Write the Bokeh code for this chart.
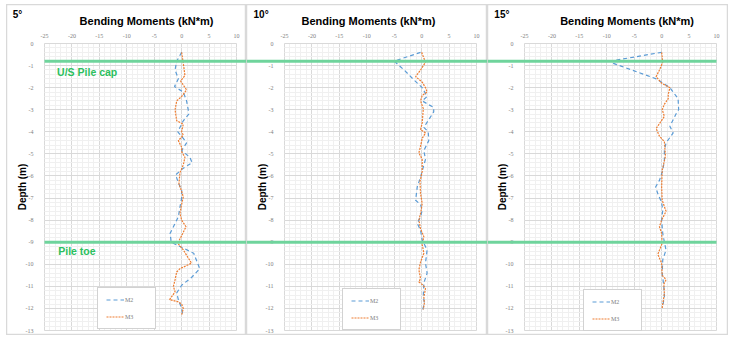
from bokeh.plotting import figure
from bokeh.layouts import row, column, Spacer
from bokeh.models import Range1d, SingleIntervalTicker, BoxAnnotation, Label, Legend
from bokeh.embed import file_html
from bokeh.resources import INLINE

# ---------------- data ----------------
angles = ["5°", "10°", "15°"]
x_ticks = [-25, -20, -15, -10, -5, 0, 5, 10]
y_ticks = [0, -1, -2, -3, -4, -5, -6, -7, -8, -9, -10, -11, -12, -13]
pile_cap_depth = -0.8
pile_toe_depth = -9.0

depth_m2_5 = [-0.4, -0.8, -1.2, -1.6, -1.95, -2.2, -2.6, -3.0, -3.2, -3.5, -4.0, -4.3, -4.5, -4.85, -5.15, -5.4,
              -5.65, -5.95, -6.3, -6.65, -7.0, -7.4, -7.85, -8.3, -8.6, -9.0, -9.5, -10.2, -10.6, -10.95, -11.3,
              -11.6, -12.0, -12.3]
m2_5 = [0, -0.9, -1.2, -0.6, -1.3, 0.3, 0.9, 1.2, 1.3, 0.3, -0.7, 0.3, 0.9, 0, 1.5, 1.9,
        0.3, -1.1, -0.6, 0, 0, -0.3, -0.6, -1.5, -2.1, -1.9, 2.2, 3.3, 1.8, 0, -0.9,
        -0.6, 0, 0.2]
depth_m3_5 = [-0.4, -0.9, -1.45, -1.7, -2.1, -2.4, -2.6, -3.0, -3.5, -3.65, -4.0, -4.15, -4.4, -4.7, -4.9, -5.15,
              -5.5, -5.85, -6.35, -6.7, -6.95, -7.4, -7.7, -8.0, -8.3, -8.7, -9.05, -9.35, -9.95, -10.2, -10.35,
              -10.7, -11.0, -11.25, -11.6, -11.7, -11.8, -12.0, -12.3]
m3_5 = [0, 0.3, 0.6, -0.2, 0.9, 0, -0.9, -1.2, -0.9, 0.3, 0, 0.3, -0.6, 0, 0, 0.6,
        0.3, -0.3, -0.5, 0, 0.3, -0.1, -0.3, 0.0, 0.8, 0, -0.7, 0.3, 1.8, -0.3, -0.9,
        -1.2, -1.5, -1.2, -2.2, -0.6, 0, 0.3, 0]

depth_m2_10 = [-0.4, -0.8, -1.2, -1.65, -2.0, -2.4, -2.6, -2.9, -3.1, -3.8, -4.0, -4.4, -4.85, -5.25, -5.6, -6.05,
               -6.5, -7.1, -7.3, -7.55, -7.85, -8.15, -8.45, -8.9, -9.35, -9.95, -10.4, -10.85, -11.45, -11.75,
               -12.15]
m2_10 = [-0.2, -5.0, -3.2, -1.4, 0.1, 1.0, 0.1, 2.2, 2.2, 0.4, 1.2, 1.3, 0.4, 0.7, 0.3, -0.2,
         -0.8, -1.1, -0.2, 0.1, -0.2, -0.8, -0.2, 0.1, 1.0, 0.7, 1.0, 0.4, 0.3, 0.5,
         0.1]
depth_m3_10 = [-0.4, -0.85, -1.2, -1.5, -1.75, -2.0, -2.2, -2.35, -2.6, -2.95, -3.6, -3.9, -4.05, -4.3, -4.65,
               -4.95, -5.25, -5.8, -6.25, -6.8, -7.25, -7.7, -8.0, -8.4, -8.75, -9.1, -9.5, -9.9, -10.25, -10.65,
               -10.8, -10.95, -11.1, -11.5, -11.75, -12.05]
m3_10 = [0, 0.7, -0.2, -1.1, 0.1, 0.7, 1.0, 0.1, -0.2, 0.3, 0.1, -0.2, 0.7, 0.1, -0.2,
         -0.5, 0.1, 0.1, -0.3, -0.2, 0.1, -0.2, -0.5, -0.2, 0.4, 0.1, 0.4, -0.2, -0.5, -0.2,
         -0.5, 0.3, 0.7, 0.4, 0.5, 0.3]

depth_m2_15 = [-0.4, -0.8, -0.9, -1.6, -2.0, -2.5, -3.0, -3.15, -3.75, -4.05, -4.5, -4.85, -5.3, -5.75, -6.2,
               -6.5, -6.8, -7.2, -7.55, -8.0, -8.6, -9.0, -9.35, -9.8, -10.4, -11.0, -11.45, -11.9]
m2_15 = [0, -9.4, -8.8, -1.0, 1.5, 3.0, 3.1, 2.7, 1.5, 2.1, 0.8, 0.5, 0.5, 0.2, -0.4,
         -1.1, -0.7, 0, 0.2, 0, 0.2, 0.5, 0.8, 0.2, 0.1, 0.4, 0.5, 0.2]
depth_m3_15 = [-0.4, -0.85, -1.2, -1.5, -1.8, -2.0, -2.3, -2.5, -2.75, -3.0, -3.3, -3.85, -4.2, -4.45, -5.1,
               -5.75, -6.5, -7.1, -7.6, -8.0, -8.3, -8.6, -9.05, -9.55, -9.95, -10.5, -10.7, -10.9, -11.35,
               -11.8, -12.0]
m3_15 = [0, 0.2, -0.4, -1.0, 0, 1.5, 1.2, 1.2, 0.5, 0.1, 0.5, -1.0, -0.4, 0.5, 0.7,
         0.1, 0, 0.1, 0.8, 0, -0.4, 0, 0.1, -0.7, 0, 0.1, 0.8, 0.4, 0.5,
         0.2, 0.1]

panels = [
    (depth_m2_5, m2_5, depth_m3_5, m3_5),
    (depth_m2_10, m2_10, depth_m3_10, m3_10),
    (depth_m2_15, m2_15, depth_m3_15, m3_15),
]

# ---------------- layout (picture pixels) ----------------
LEFT_PAD, TOP_PAD = 6, 4
canvas_edges = [(6, 246), (246, 487), (487, 728)]   # left/right px of each panel
plot_left = [44, 284, 524]                          # px of x = -25
PX_PER_X = 192 / 35.0
PLOT_TOP = 43                                        # px of depth 0
PX_PER_Y = 287 / 13.0
H = 331
title_x = [-6.4, -9.7, -6.3]
angle_x = [-30.8, -30.65, -30.5]
legend_loc = [(91, 6), (96, 5), (96, 4)]

# ---------------- style ----------------
BLUE = "#5b9bd5"
ORANGE = "#ed7d31"
GREEN_LINE = "#6fd49c"
GREEN_TEXT = "#2cbf5e"
TICK_COL = "#808080"
SANS = "Liberation Sans"
SERIF = "Liberation Serif"

y_top = (PLOT_TOP - TOP_PAD) / PX_PER_Y
y_bot = -13 - (TOP_PAD + H - (PLOT_TOP + 287)) / PX_PER_Y

figs = []
for i, (dm2, vm2, dm3, vm3) in enumerate(panels):
    c0, c1 = canvas_edges[i]
    x0 = -25 - (plot_left[i] - c0) / PX_PER_X
    x1 = -25 + (c1 - plot_left[i]) / PX_PER_X
    p = figure(width=c1 - c0, height=H, output_backend="svg", toolbar_location=None,
               x_range=Range1d(x0, x1), y_range=Range1d(y_bot, y_top),
               x_axis_location="above",
               min_border_left=0, min_border_right=0, min_border_top=0, min_border_bottom=0)
    p.background_fill_color = "white"
    p.border_fill_color = "white"
    p.outline_line_color = "#d9d9d9"
    p.outline_line_width = 1.5

    p.xaxis.fixed_location = 0
    p.yaxis.fixed_location = -25
    p.xaxis.bounds = (-25, 10)
    p.yaxis.bounds = (-13, 0)
    p.xaxis.ticker = SingleIntervalTicker(interval=5, num_minor_ticks=5)
    p.yaxis.ticker = SingleIntervalTicker(interval=1, num_minor_ticks=5)
    p.xaxis.major_label_overrides = {t: str(t) for t in x_ticks}
    p.yaxis.major_label_overrides = {t: str(t) for t in y_ticks}
    for ax in (p.xaxis, p.yaxis):
        ax.axis_line_color = None
        ax.major_tick_line_color = None
        ax.minor_tick_line_color = None
        ax.major_label_text_font = SERIF
        ax.major_label_text_font_size = "6px"
        ax.major_label_text_color = TICK_COL
    p.xaxis.major_label_standoff = 0
    p.yaxis.major_label_standoff = 5
    p.yaxis.axis_label = "Depth (m)"
    p.yaxis.axis_label_text_font = SANS
    p.yaxis.axis_label_text_font_style = "bold"
    p.yaxis.axis_label_text_font_size = "10px"
    p.yaxis.axis_label_text_color = "black"
    p.yaxis.axis_label_standoff = -5

    p.xgrid.bounds = (-25, 10)
    p.ygrid.bounds = (-13, 0)
    p.xgrid.cross_bounds = (-13, 0)
    p.ygrid.cross_bounds = (-25, 10)
    p.xgrid.grid_line_color = "#d9d9d9"
    p.ygrid.grid_line_color = "#d9d9d9"
    p.xgrid.minor_grid_line_color = "#f0f0f0"
    p.ygrid.minor_grid_line_color = "#f0f0f0"

    r2 = p.line(vm2, dm2, line_color=BLUE, line_width=1.2, line_dash="4 3")
    r3 = p.line(vm3, dm3, line_color=ORANGE, line_width=1.2, line_dash="2 1")

    legend = Legend(items=[("M2", [r2]), ("M3", [r3])], location=legend_loc[i],
                    label_text_font=SERIF, label_text_font_size="6px", label_text_color=TICK_COL,
                    glyph_width=18, glyph_height=7, label_height=7, label_width=22, label_standoff=1,
                    spacing=10, padding=8, margin=0,
                    border_line_color="#a6a6a6", border_line_width=1.5,
                    background_fill_color="white", background_fill_alpha=1)
    p.add_layout(legend)

    # green reference lines running across the panels
    for depth in (pile_cap_depth, pile_toe_depth):
        kw = dict(top=depth + 0.068, bottom=depth - 0.068,
                  fill_color=GREEN_LINE, fill_alpha=1, line_color=None)
        if i == 0:
            kw.update(left=-25)
        elif i == 2:
            kw.update(right=10)
        p.add_layout(BoxAnnotation(**kw))

    if i == 0:
        p.add_layout(Label(x=-22.7, y=-1.27, text="U/S Pile cap", text_font=SANS, text_font_style="bold",
                           text_font_size="10.5px", text_color=GREEN_TEXT, text_baseline="middle"))
        p.add_layout(Label(x=-22.5, y=-9.4, text="Pile toe", text_font=SANS, text_font_style="bold",
                           text_font_size="10.5px", text_color=GREEN_TEXT, text_baseline="middle"))

    p.add_layout(Label(x=angle_x[i], y=1.31, text=angles[i], text_font=SANS, text_font_style="bold",
                       text_font_size="10px", text_color="black", text_baseline="middle"))
    p.add_layout(Label(x=title_x[i], y=1.04, text="Bending Moments (kN*m)", text_font=SANS,
                       text_font_style="bold", text_font_size="11px", text_color="black",
                       text_baseline="middle", text_align="center"))
    figs.append(p)

layout = column(Spacer(height=TOP_PAD, width=10),
                row(Spacer(width=LEFT_PAD, height=H), *figs))
open("out.html", "w").write(file_html(layout, INLINE))
